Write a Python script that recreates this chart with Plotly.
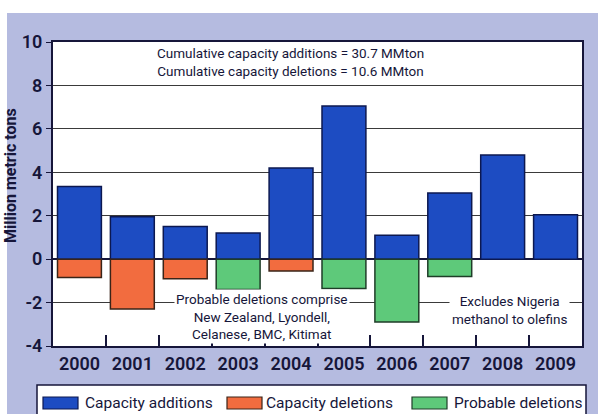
import plotly.graph_objects as go

# ---- data ----
years = ["2000", "2001", "2002", "2003", "2004", "2005", "2006", "2007", "2008", "2009"]
capacity_additions = [3.35, 1.95, 1.5, 1.2, 4.2, 7.05, 1.1, 3.05, 4.8, 2.05]
capacity_deletions = [-0.85, -2.3, -0.9, None, -0.55, None, None, None, None, None]
probable_deletions = [None, None, None, -1.4, None, -1.35, -2.9, -0.8, None, None]
series_names = ["Capacity additions", "Capacity deletions", "Probable deletions"]
y_ticks = [-4, -2, 0, 2, 4, 6, 8, 10]
y_tick_text = ["-4", "-2", "0", "2", "4", "6", "8", "10"]

# ---- style ----
W, H = 598, 414
ML, MR, MT, MB = 53, 16, 42, 68
PW, PH = W - ML - MR, H - MT - MB
DARK = "#16163a"
FONT = "Roboto"
fills = ["#1d4cc2", "#f26c3f", "#5ec97a"]
edges = ["#0c1850", "#3a2418", "#1f3d28"]


def px(x):
    return (x - ML) / PW


def py(y):
    return (H - MB - y) / PH


fig = go.Figure()
for name, vals, fc, lc in zip(series_names,
                              [capacity_additions, capacity_deletions, probable_deletions],
                              fills, edges):
    fig.add_bar(x=years, y=vals, name=name,
                marker=dict(color=fc, line=dict(color=lc, width=1.5)))

shapes = [
    # white strips at top and left edge of the scan
    dict(type="rect", xref="paper", yref="paper", x0=px(-2), x1=px(W + 2), y0=py(13), y1=py(-2),
         fillcolor="white", line=dict(width=0), layer="below"),
    dict(type="rect", xref="paper", yref="paper", x0=px(-2), x1=px(7), y0=py(H + 2), y1=py(-2),
         fillcolor="white", line=dict(width=0), layer="below"),
    # legend box
    dict(type="rect", xref="paper", yref="paper", x0=px(37), x1=px(586), y0=py(425), y1=py(385),
         fillcolor="white", line=dict(color=DARK, width=1.5), layer="above"),
]
swatch_x = [43, 227, 412]
label_x = [83, 264, 452]
for sx, fc, lc in zip(swatch_x, fills, edges):
    shapes.append(dict(type="rect", xref="paper", yref="paper", x0=px(sx), x1=px(sx + 35),
                       y0=py(409), y1=py(397), fillcolor=fc, line=dict(color=lc, width=1.2),
                       layer="above"))

annotations = [
    dict(text="Cumulative capacity additions = 30.7 MMton<br>Cumulative capacity deletions = 10.6 MMton",
         xref="paper", yref="y", x=px(290), y=9.08, xanchor="center", yanchor="middle",
         showarrow=False, font=dict(family=FONT, size=13.5, color=DARK), align="center"),
    dict(text="Probable deletions comprise<br>New Zealand, Lyondell,<br>Celanese, BMC, Kitimat",
         xref="paper", yref="y", x=px(262), y=-2.62, xanchor="center", yanchor="middle",
         showarrow=False, font=dict(family=FONT, size=13.5, color=DARK), align="center",
         bgcolor="white", borderpad=1),
    dict(text="Excludes Nigeria<br>methanol to olefins",
         xref="paper", yref="y", x=px(509), y=-2.32, xanchor="center", yanchor="middle",
         showarrow=False, font=dict(family=FONT, size=13.5, color=DARK), align="center",
         bgcolor="white", borderpad=2),
    dict(text="Million metric tons", textangle=-90,
         xref="paper", yref="paper", x=px(10), y=py(176), xanchor="center", yanchor="middle",
         showarrow=False, font=dict(family=FONT, size=16, color=DARK, weight="bold")),
]
for lx, name in zip(label_x, series_names):
    annotations.append(dict(text=name, xref="paper", yref="paper", x=px(lx), y=py(403),
                            xanchor="left", yanchor="middle", showarrow=False,
                            font=dict(family=FONT, size=15.5, color=DARK)))

fig.update_layout(
    width=W, height=H,
    margin=dict(l=ML, r=MR, t=MT, b=MB, pad=0),
    paper_bgcolor="#b5bbe0",
    plot_bgcolor="white",
    barmode="relative",
    bargap=0.17,
    showlegend=False,
    shapes=shapes,
    annotations=annotations,
    xaxis=dict(type="category", tickson="boundaries", ticks="inside", ticklen=11,
               tickwidth=1.5, tickcolor=DARK, showline=True, linewidth=2, linecolor=DARK,
               mirror=True, showgrid=False,
               tickfont=dict(family=FONT, size=18, color=DARK, weight=600)),
    yaxis=dict(range=[-4, 10], tickvals=y_ticks, ticktext=y_tick_text, showgrid=True,
               gridcolor="#3a3a3a", gridwidth=1.3, zeroline=True, zerolinecolor=DARK,
               zerolinewidth=1.8, ticks="outside", ticklen=5, tickwidth=1.3, tickcolor=DARK,
               showline=True, linewidth=2, linecolor=DARK, mirror=True,
               tickfont=dict(family=FONT, size=18, color=DARK, weight=600)),
)

fig.write_html("out.html")
